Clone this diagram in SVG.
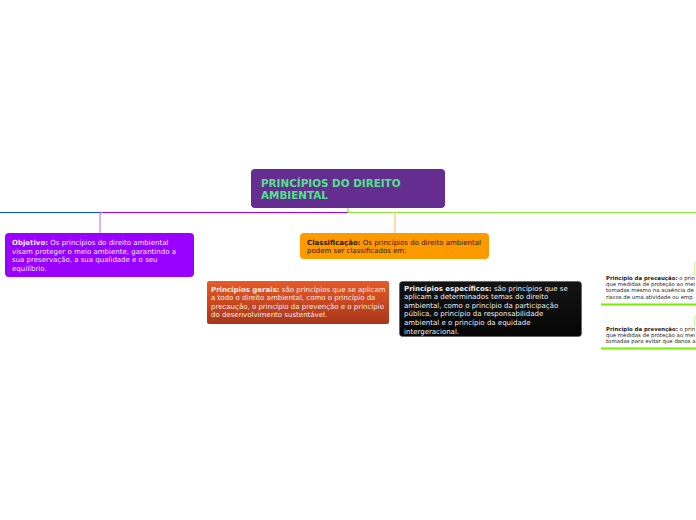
<svg xmlns="http://www.w3.org/2000/svg" width="696" height="520" viewBox="0 0 696 520">
<defs>
<linearGradient id="gRed" x1="0" y1="0" x2="0" y2="1">
<stop offset="0" stop-color="#e85a28"/>
<stop offset="1" stop-color="#a7351a"/>
</linearGradient>
<linearGradient id="gBlack" x1="0" y1="0" x2="0" y2="1">
<stop offset="0" stop-color="#141414"/>
<stop offset="1" stop-color="#050505"/>
</linearGradient>
</defs>
<style>
text{font-family:"DejaVu Sans",Verdana,sans-serif;}
.t{font-size:7px;}
.s{font-size:5.4px;fill:#222;}
.b{font-weight:bold;}
.line{fill:none;stroke-width:1.2;}
</style>
<rect width="696" height="520" fill="#ffffff"/>
<g id="connectors">
<path class="line" d="M0 212.5H100" stroke="#0055ff"/>
<path class="line" d="M100 212.5H348" stroke="#9900ff"/>
<path class="line" d="M348 212.5H696" stroke="#88e83a"/>
<path class="line" d="M348 207V212.5" stroke="#88e83a"/>
<path class="line" d="M100 233V215Q100 212.5 102.5 212.5" stroke="#c77dff" stroke-width="1.5"/>
<path class="line" d="M395 233V215Q395 212.5 392.5 212.5" stroke="#ffc67a" stroke-width="1.5"/>
<path class="line" d="M694.5 276V266Q694.5 262 697 262" stroke="#cdf5a8" stroke-width="1.5"/>
<path class="line" d="M694.5 327V320Q694.5 316 697 316" stroke="#cdf5a8" stroke-width="1.5"/>
</g>
<g id="root">
<rect x="251" y="169" width="194" height="39" rx="4" fill="#662d91"/>
<text x="261" y="187" font-size="10.4" font-weight="bold" fill="#4fe38a">PRINCÍPIOS DO DIREITO</text>
<text x="261" y="199" font-size="10.4" font-weight="bold" fill="#4fe38a">AMBIENTAL</text>
</g>
<g id="objetivo">
<rect x="5" y="233" width="189" height="44" rx="4" fill="#9900ff"/>
<text class="t" fill="#f3e6ff"><tspan x="12" y="245"><tspan class="b">Objetivo:</tspan> Os princípios do direito ambiental</tspan><tspan x="12" y="253.6">visam proteger o meio ambiente, garantindo a</tspan><tspan x="12" y="262.2">sua preservação, a sua qualidade e o seu</tspan><tspan x="12" y="270.8">equilíbrio.</tspan></text>
</g>
<g id="classificacao">
<rect x="300" y="233" width="189" height="26" rx="4" fill="#ff9900"/>
<text class="t" fill="#2a1800"><tspan x="307" y="244.5"><tspan class="b">Classificação:</tspan> Os princípios do direito ambiental</tspan><tspan x="307" y="253.1">podem ser classificados em:</tspan></text>
</g>
<g id="gerais">
<rect x="207" y="281" width="182" height="43" rx="2" fill="url(#gRed)"/>
<text class="t" fill="#fbeee6"><tspan x="211" y="291.5"><tspan class="b">Princípios gerais:</tspan> são princípios que se aplicam</tspan><tspan x="211" y="300.1">a todo o direito ambiental, como o princípio da</tspan><tspan x="211" y="308.7">precaução, o princípio da prevenção e o princípio</tspan><tspan x="211" y="317.3">do desenvolvimento sustentável.</tspan></text>
</g>
<g id="especificos">
<rect x="399.5" y="281.5" width="182" height="55" rx="3" fill="url(#gBlack)" stroke="#555" stroke-width="0.6"/>
<text class="t" fill="#eeeeee"><tspan x="404" y="290.5"><tspan class="b">Princípios específicos:</tspan> são princípios que se</tspan><tspan x="404" y="299.1">aplicam a determinados temas do direito</tspan><tspan x="404" y="307.7">ambiental, como o princípio da participação</tspan><tspan x="404" y="316.3">pública, o princípio da responsabilidade</tspan><tspan x="404" y="324.9">ambiental e o princípio da equidade</tspan><tspan x="404" y="333.5">intergeracional.</tspan></text>
</g>
<g id="precaucao">
<text class="s"><tspan x="606" y="280"><tspan class="b">Princípio da precaução:</tspan> o prin</tspan><tspan x="606" y="286.2">que medidas de proteção ao mei</tspan><tspan x="606" y="292.4">tomadas mesmo na ausência de</tspan><tspan x="606" y="298.6">riscos de uma atividade ou emp</tspan></text>
<path d="M601 304.5H696" stroke="#77ee00" stroke-width="2"/>
</g>
<g id="prevencao">
<text class="s"><tspan x="606" y="330.5"><tspan class="b">Princípio da prevenção:</tspan> o prin</tspan><tspan x="606" y="336.7">que medidas de proteção ao mei</tspan><tspan x="606" y="342.9">tomadas para evitar que danos a</tspan></text>
<path d="M601 348.5H696" stroke="#77ee00" stroke-width="2"/>
</g>
</svg>
